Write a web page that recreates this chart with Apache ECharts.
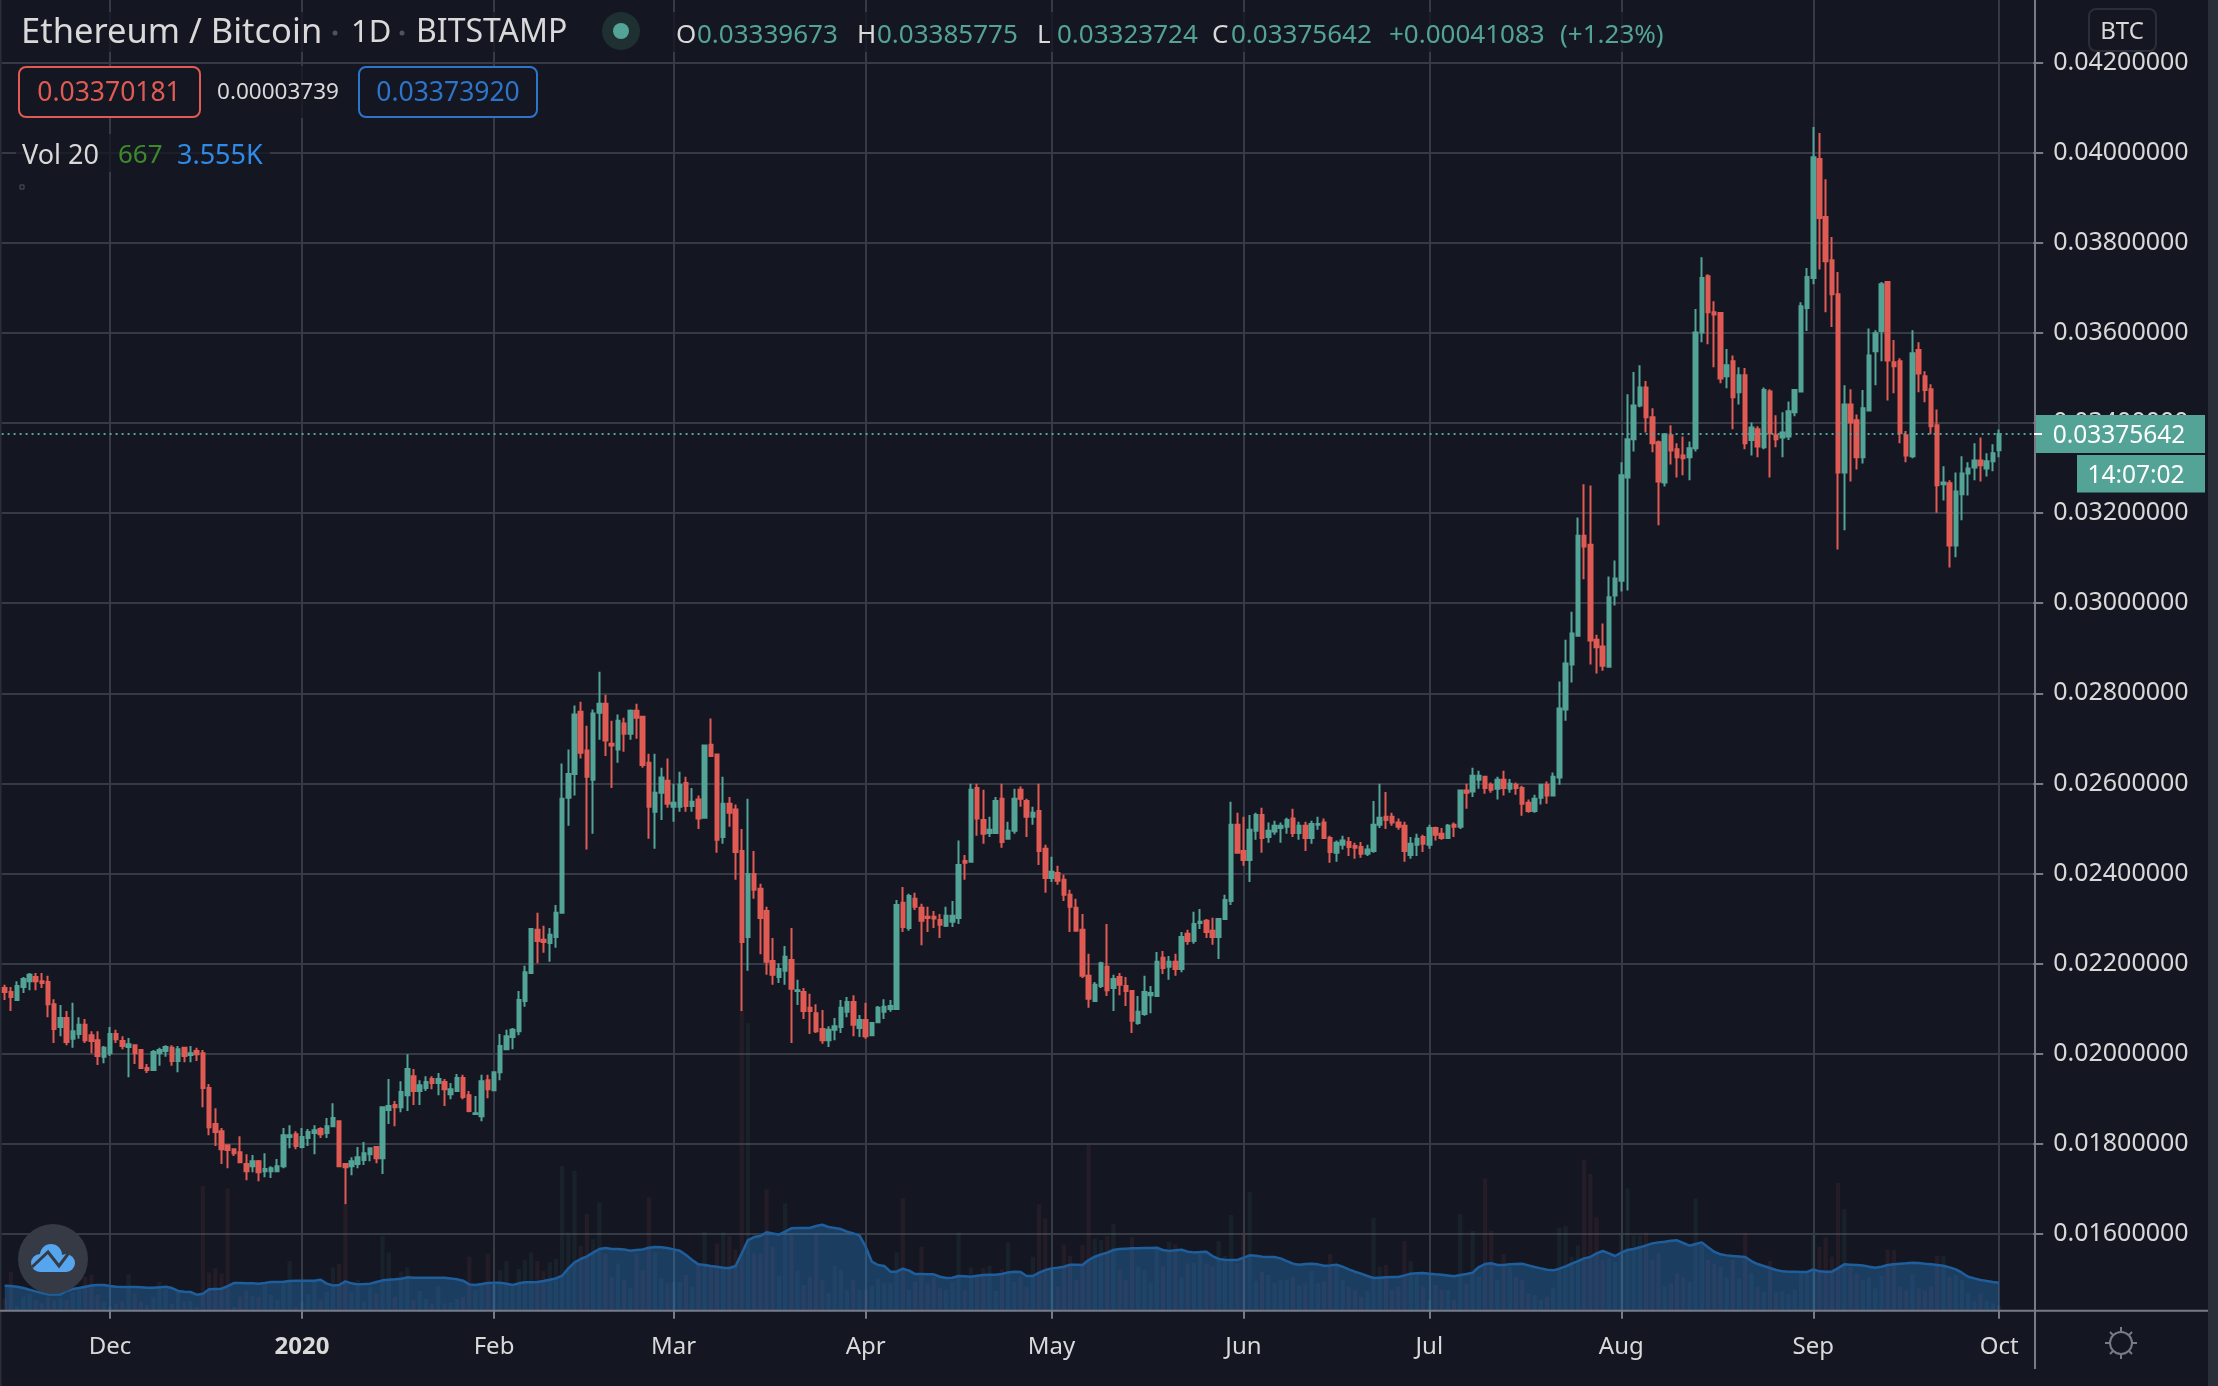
<!DOCTYPE html>
<html><head><meta charset="utf-8">
<style>html,body{margin:0;padding:0;background:#131722}#c{width:2218px;height:1386px}</style>
<script src="https://cdn.jsdelivr.net/npm/echarts@6/dist/echarts.min.js"></script>
</head><body><div id="c"></div>
<script>
// Prices are in units of 0.00001 BTC
const PRICE_UNIT = 1e-5;
const startDate = '2019-11-14';
const blankDays = 5;
const priceOpen = [
2146,2137,2119,2148,2161,2170,2161,2159,2110,2059,
2079,2033,2044,2064,2041,2030,1993,2001,2044,2028,
2015,2019,2008,1968,1964,2001,2006,2013,1984,2013,
1997,2006,2001,1924,1844,1828,1797,1788,1781,1755,
1750,1761,1739,1739,1739,1750,1815,1821,1793,1813,
1824,1833,1824,1839,1850,1755,1750,1755,1764,1777,
1793,1768,1875,1886,1881,1908,1950,1917,1924,1944,
1935,1937,1910,1917,1946,1908,1866,1861,1941,1919,
1959,2010,2037,2050,2117,2179,2275,2253,2246,2259,
2313,2568,2621,2759,2673,2608,2757,2777,2688,2675,
2733,2710,2761,2748,2646,2537,2579,2606,2548,2548,
2601,2550,2564,2524,2686,2664,2481,2555,2542,2450,
2259,2399,2366,2317,2206,2170,2184,2208,2139,2137,
2102,2090,2055,2030,2053,2059,2093,2115,2057,2075,
2041,2070,2093,2099,2099,2335,2279,2344,2324,2304,
2304,2297,2284,2293,2301,2428,2426,2590,2519,2490,
2490,2566,2477,2495,2586,2561,2526,2539,2455,2390,
2401,2386,2353,2324,2275,2173,2117,2150,2193,2146,
2170,2150,2139,2068,2088,2130,2128,2213,2193,2204,
2188,2266,2250,2290,2295,2273,2259,2299,2339,2508,
2450,2430,2495,2530,2481,2493,2501,2504,2522,2490,
2506,2479,2508,2513,2479,2446,2464,2470,2461,2459,
2444,2450,2508,2526,2526,2513,2506,2441,2464,2481,
2464,2501,2488,2479,2508,2504,2584,2582,2608,2615,
2597,2588,2608,2588,2597,2590,2557,2539,2568,2597,
2573,2613,2764,2864,2928,3150,3130,2919,2904,2859,
3017,3050,3279,3364,3439,3479,3413,3357,3268,3373,
3342,3328,3324,3344,3601,3726,3646,3644,3504,3537,
3468,3506,3362,3386,3346,3470,3373,3368,3370,3424,
3470,3655,3722,3986,3857,3761,3686,3290,3441,3406,
3324,3428,3559,3604,3713,3535,3537,3373,3326,3562,
3504,3475,3395,3264,3266,3128,3242,3288,3301,3317,
3299,3315,3339.673];
const priceClose = [
2137,2126,2150,2166,2175,2161,2157,2110,2055,2079,
2026,2050,2064,2030,2028,1995,2013,2044,2032,2017,
2021,2001,1968,1964,2004,2008,2015,1984,2010,1995,
2001,1999,1924,1837,1826,1788,1786,1779,1759,1739,
1761,1737,1744,1746,1750,1819,1819,1795,1815,1826,
1830,1821,1839,1857,1750,1748,1761,1770,1779,1790,
1768,1881,1884,1881,1915,1966,1917,1930,1937,1935,
1944,1921,1921,1946,1904,1873,1868,1939,1921,1959,
2017,2039,2053,2119,2181,2277,2250,2248,2264,2313,
2566,2621,2753,2668,2615,2755,2777,2695,2684,2739,
2710,2761,2746,2641,2548,2579,2613,2555,2557,2597,
2550,2559,2522,2684,2661,2475,2555,2535,2448,2248,
2399,2364,2301,2204,2175,2188,2215,2144,2141,2095,
2095,2050,2030,2053,2061,2102,2115,2064,2075,2039,
2068,2102,2104,2106,2330,2281,2350,2326,2295,2301,
2300,2286,2306,2306,2419,2424,2586,2522,2488,2497,
2561,2470,2495,2566,2566,2526,2535,2450,2390,2404,
2384,2353,2326,2273,2173,2122,2153,2201,2141,2166,
2153,2139,2073,2093,2137,2135,2204,2190,2204,2188,
2259,2250,2288,2293,2270,2259,2299,2341,2508,2446,
2430,2497,2530,2479,2495,2506,2506,2519,2490,2506,
2479,2510,2510,2479,2448,2468,2473,2459,2457,2444,
2453,2508,2524,2519,2513,2504,2450,2466,2477,2466,
2501,2486,2479,2506,2504,2584,2579,2617,2617,2590,
2586,2608,2590,2599,2590,2555,2539,2566,2597,2573,
2615,2766,2866,2933,3150,3126,2917,2902,2861,3013,
3055,3284,3364,3439,3479,3413,3355,3270,3375,3339,
3324,3322,3344,3601,3722,3646,3641,3499,3528,3457,
3506,3355,3390,3348,3473,3377,3364,3379,3426,3473,
3659,3724,3990,3855,3759,3686,3290,3441,3401,3324,
3433,3550,3599,3708,3539,3526,3377,3328,3555,3510,
3473,3393,3262,3268,3128,3248,3288,3299,3317,3306,
3315,3333,3375.642];
const priceHigh = [
2153,2148,2161,2170,2179,2179,2179,2173,2121,2108,
2095,2113,2081,2077,2050,2050,2017,2059,2053,2039,
2035,2021,2010,1977,2008,2013,2019,2019,2017,2015,
2017,2013,2008,1933,1879,1835,1797,1788,1817,1777,
1775,1764,1779,1750,1766,1835,1841,1828,1835,1833,
1841,1837,1857,1890,1850,1755,1770,1793,1804,1790,
1793,1881,1944,1895,1939,1999,1966,1941,1950,1950,
1957,1944,1935,1955,1953,1917,1906,1953,1953,1961,
2044,2053,2057,2139,2195,2279,2313,2284,2279,2330,
2644,2675,2773,2781,2728,2764,2848,2797,2739,2753,
2746,2764,2777,2748,2666,2666,2635,2655,2599,2626,
2615,2590,2573,2684,2744,2666,2615,2570,2553,2499,
2566,2450,2377,2326,2257,2201,2239,2279,2164,2146,
2133,2110,2097,2061,2079,2119,2126,2130,2086,2113,
2068,2106,2121,2119,2341,2370,2355,2357,2333,2326,
2317,2310,2326,2339,2473,2441,2599,2599,2586,2526,
2570,2599,2515,2588,2593,2566,2548,2599,2464,2437,
2417,2397,2364,2344,2310,2222,2159,2204,2288,2175,
2179,2170,2139,2128,2173,2150,2226,2228,2217,2222,
2270,2275,2315,2321,2299,2302,2299,2353,2559,2535,
2526,2530,2535,2546,2513,2517,2513,2524,2544,2515,
2515,2517,2526,2522,2484,2473,2484,2481,2468,2470,
2464,2561,2599,2581,2535,2522,2515,2481,2488,2486,
2508,2504,2501,2510,2513,2584,2599,2635,2628,2617,
2602,2615,2628,2610,2602,2595,2564,2575,2597,2604,
2624,2826,2919,2981,3190,3264,3261,2930,2955,3059,
3095,3313,3464,3513,3528,3493,3433,3361,3377,3395,
3355,3370,3359,3653,3768,3730,3670,3644,3564,3550,
3524,3522,3401,3393,3479,3475,3417,3424,3448,3473,
3668,3744,4057,4044,3941,3813,3735,3484,3475,3419,
3473,3610,3606,3713,3713,3584,3544,3382,3606,3579,
3515,3486,3430,3304,3273,3290,3326,3313,3355,3368,
3333,3353,3385.775];
const priceLow = [
2119,2095,2119,2135,2141,2141,2146,2081,2024,2039,
2019,2013,2033,2024,2001,1975,1979,1995,2024,2010,
1948,1977,1966,1957,1964,1973,1993,1973,1959,1981,
1981,1984,1881,1819,1795,1755,1746,1773,1759,1719,
1737,1717,1726,1724,1739,1746,1790,1788,1790,1795,
1777,1813,1813,1837,1750,1666,1730,1746,1753,1761,
1757,1733,1844,1839,1870,1873,1886,1886,1917,1921,
1908,1884,1899,1915,1899,1870,1864,1850,1901,1917,
1941,2010,2010,2041,2104,2179,2201,2224,2204,2235,
2313,2506,2573,2655,2453,2488,2697,2661,2590,2646,
2670,2697,2699,2635,2477,2455,2519,2546,2515,2537,
2537,2537,2499,2522,2659,2446,2466,2504,2386,2095,
2184,2344,2221,2175,2153,2157,2153,2024,2108,2077,
2044,2046,2022,2015,2030,2046,2081,2039,2037,2033,
2039,2070,2077,2093,2097,2270,2273,2319,2241,2270,
2279,2257,2281,2281,2288,2386,2424,2484,2466,2481,
2490,2457,2475,2488,2548,2481,2508,2419,2357,2381,
2375,2339,2270,2273,2168,2102,2115,2146,2128,2095,
2130,2106,2046,2064,2084,2090,2128,2177,2164,2173,
2181,2242,2244,2277,2257,2242,2210,2299,2330,2444,
2417,2381,2475,2446,2468,2486,2468,2488,2481,2475,
2450,2466,2497,2477,2424,2426,2453,2439,2433,2435,
2439,2446,2501,2499,2506,2497,2426,2433,2439,2448,
2455,2473,2475,2477,2481,2499,2544,2570,2588,2577,
2579,2564,2573,2579,2575,2528,2535,2535,2553,2555,
2573,2597,2739,2824,2926,3053,2864,2844,2850,2859,
2995,3026,3028,3337,3435,3379,3335,3173,3259,3308,
3279,3284,3273,3337,3579,3575,3524,3488,3477,3386,
3441,3342,3328,3324,3342,3279,3346,3324,3362,3415,
3470,3604,3708,3741,3646,3613,3119,3162,3270,3297,
3310,3428,3484,3537,3450,3466,3355,3313,3322,3468,
3446,3375,3201,3228,3079,3102,3184,3239,3273,3270,
3281,3293,3323.724];
const volume = [
1570,4950,590,1780,2120,1350,930,1780,1350,1570,
1350,2410,2620,4310,4530,1990,1140,510,930,1140,
4650,2200,1140,720,1780,3680,2750,930,2410,1140,
1230,510,15820,4860,5370,4740,15520,510,1780,2620,
1860,1780,3260,1990,1350,3680,6300,510,1140,2070,
3680,1350,2410,5500,5920,13410,2410,3890,1140,3050,
2200,9480,7400,1780,4950,5500,1350,2500,1480,930,
3130,930,1020,1480,1780,6850,2620,3260,7190,3260,
5160,6300,3050,5290,6430,7400,6300,5030,6130,6560,
18360,9900,17720,8250,12270,9090,13750,7280,4310,6010,
3890,2830,7280,5160,14380,7400,4100,3470,3680,3680,
4530,3050,6010,10030,5580,8540,9940,9480,7780,38150,
36460,7280,7280,15400,8120,4400,13620,9810,5080,3260,
4310,9810,3890,2280,5670,5160,2620,3890,2620,2620,
3130,4100,3470,3470,7400,14260,2620,3680,8120,3470,
4310,2830,2620,3680,9900,2620,5500,4310,5370,5670,
2500,5250,8670,3680,4310,3050,6850,13490,11720,5370,
3050,8420,6980,3890,8330,21020,9180,8970,9480,11000,
5160,3890,9390,5580,5160,3470,7700,5580,8760,8420,
4230,6010,6090,7280,6010,5580,8840,6940,12140,6010,
9810,15100,3760,4950,4530,3550,3980,3890,4310,3260,
3470,5030,3470,3680,7190,5800,3890,3050,2620,1780,
2500,11800,5580,5800,2620,3050,8840,6300,4740,3050,
1350,3260,2620,2620,1350,12270,3470,10110,4310,16790,
10150,3890,7190,5580,4310,3890,2200,1990,1350,1780,
2920,10530,10740,6850,8250,19120,17340,11840,6430,6640,
6220,9810,15520,9520,9520,9900,6430,7280,3170,3470,
4740,4310,3680,14260,8540,6430,6010,5580,4230,6430,
4100,9810,4740,3050,2410,6300,2410,2500,2120,2620,
4740,4740,9600,8120,9310,6850,16240,12900,5580,4740,
3890,4190,2830,4440,7780,7700,3050,2620,4650,2830,
2620,3050,6940,6940,4310,4530,3890,2280,1230,2200,
1230,930,667];
const volumeAverage = [
3170,3130,3050,2880,2660,2450,2240,2070,2070,2070,
2500,2750,2880,3050,3210,3260,3260,3130,3050,3000,
3000,3000,2960,2920,2920,2960,3050,2880,2500,2410,
2370,2030,2160,2710,2750,2790,3130,3510,3510,3470,
3470,3430,3510,3640,3640,3680,3760,3810,3810,3810,
3810,3930,3430,3210,3260,3720,3470,3340,3380,3430,
3640,3850,3930,3980,4060,4230,4190,4190,4190,4190,
4190,4190,4100,3980,3810,3340,3260,3380,3510,3550,
3550,3430,3260,3470,3600,3600,3640,3760,3930,4100,
4440,5370,6130,6560,6890,7360,7830,7950,7830,7830,
7780,7610,7700,7780,7990,8080,8040,7950,7780,7610,
7060,6430,5880,5800,5670,5580,5460,5410,5670,7280,
8970,9350,9480,9940,9810,9640,10030,10450,10490,10490,
10490,10740,10910,10620,10490,10360,10030,9810,9560,8120,
6220,5800,5670,4950,4950,5330,5080,4650,4650,4610,
4610,4310,4150,4190,4400,4360,4310,4440,4530,4570,
4570,4650,4860,4950,4910,4400,4400,4820,5160,5370,
5460,5580,5840,5840,5800,6430,6850,7150,7360,7700,
7830,7870,7910,7910,7950,7950,7990,7700,7570,7660,
7740,7490,7400,7440,7490,6940,6560,6470,6430,6430,
6730,7020,6980,6850,6810,6810,6640,6300,5960,5840,
5920,5960,5880,5710,5750,5840,5580,5250,4950,4700,
4400,4150,4190,4230,4270,4270,4480,4700,4740,4780,
4700,4610,4570,4480,4360,4530,4650,4820,5540,5920,
6010,5800,5800,5880,5920,5960,5750,5540,5370,5200,
5120,5330,5630,5960,6300,6640,6810,7280,7570,7280,
6940,7360,7700,7830,8040,8290,8540,8670,8760,8880,
8930,8590,8250,8460,8670,8040,7490,7150,7020,6940,
6890,6810,6300,5920,5670,5410,5160,4990,4950,4950,
4910,4910,5250,4990,4950,4950,5410,5880,5840,5800,
5750,5580,5460,5580,5800,5880,5960,6010,6090,6050,
5960,5880,5800,5710,5500,5250,4820,4310,4100,3890,
3760,3640,3555];
const priceTicks = [0.016,0.018,0.02,0.022,0.024,0.026,0.028,0.03,0.032,0.034,0.036,0.038,0.04,0.042];
const monthTicks = {'2019-12-01':'Dec','2020-01-01':'2020','2020-02-01':'Feb','2020-03-01':'Mar','2020-04-01':'Apr','2020-05-01':'May','2020-06-01':'Jun','2020-07-01':'Jul','2020-08-01':'Aug','2020-09-01':'Sep','2020-10-01':'Oct'};
const lastClose = priceClose[priceClose.length-1]*PRICE_UNIT;

const BG='#141722', GRID='#363a45', AXIS='#787b86', UP='#53a497', DOWN='#e05b54', FONT='"Noto Sans", sans-serif', TXT='#d9d9d9';

const categories=[];
{const d=new Date(startDate+'T00:00:00Z');
 for(let i=0;i<priceOpen.length+blankDays;i++){categories.push(d.toISOString().slice(0,10));d.setUTCDate(d.getUTCDate()+1);}}
const isMonth=(i,v)=>v in monthTicks;
const candleData=priceOpen.map((o,i)=>[o*PRICE_UNIT,priceClose[i]*PRICE_UNIT,priceLow[i]*PRICE_UNIT,priceHigh[i]*PRICE_UNIT]);
const barData=volume.map((v,i)=>({value:v,itemStyle:{color:priceClose[i]>=priceOpen[i]?UP:DOWN,opacity:0.08}}));

const Z=100;
const text=(t,x,y,size,fill,align)=>({type:'text',z:Z+2,silent:true,style:{text:t,x,y:y+2,fill,font:size+'px '+FONT,align:align||'left',verticalAlign:'middle'}});
const rect=(x,y,w,h,st,r)=>({type:'rect',z:Z,silent:true,shape:{x,y,width:w,height:h,r:r||0},style:st});
const mask=(x,y,w,h)=>rect(x,y,w,h,{fill:BG,opacity:0.75});
const line=(x1,y1,x2,y2,c,w)=>({type:'line',z:Z+1,silent:true,shape:{x1,y1,x2,y2},style:{stroke:c,lineWidth:w||2}});
const disc=(cx,cy,r,fill,z)=>({type:'circle',z:z||Z+1,silent:true,shape:{cx,cy,r},style:{fill}});

const graphics=[
 rect(2208,0,10,1386,{fill:'#2a2e39'}),
 rect(0,0,1.5,1386,{fill:'#2a2e39'}),
 line(0,1310.7,2208,1310.7,AXIS,2),
 line(2035,0,2035,1369,AXIS,2),
 mask(14,12,1660,40),mask(14,66,526,52),mask(16,134,254,38),
 text('Ethereum / Bitcoin',21,31,34.5,TXT),
 disc(335,33,2.5,'#50535e'),
 text('1D',351,31,31,TXT),
 disc(402,33,2.5,'#50535e'),
 text('BITSTAMP',416,31,32,TXT),
 disc(621,31,19,'#1f3033'),
 disc(621,31,8,UP,Z+2),
 text('O',676,34,26,TXT),text('0.03339673',697,34,26,UP),
 text('H',857,34,26,TXT),text('0.03385775',877,34,26,UP),
 text('L',1037,34,26,TXT),text('0.03323724',1057,34,26,UP),
 text('C',1212,34,26,TXT),text('0.03375642',1231,34,26,UP),
 text('+0.00041083',1389,34,26,UP),text('(+1.23%)',1560,34,26,UP),
 rect(19,67,181,50,{fill:BG,stroke:DOWN,lineWidth:2},7),
 text('0.03370181',109,91,26.5,DOWN,'center'),
 text('0.00003739',278,91,22.5,TXT,'center'),
 rect(359,67,178,50,{fill:BG,stroke:'#2e74c9',lineWidth:2},7),
 text('0.03373920',448,91,26.5,'#2e74c9','center'),
 text('Vol 20',22,154,27,TXT),text('667',118,154,26,'#3d8a2b'),text('3.555K',177,154,27,'#2f8be6'),
 rect(20,185,4,4,{fill:'none',stroke:'#50535e',lineWidth:1}),
 disc(53,1259,35,'#363a45'),
 // logo: a cloud built from discs and a base, crossed by a dark zigzag
 disc(40,1263,9,'#55a6ee',Z+2),disc(51,1255,11,'#55a6ee',Z+2),disc(66,1263,9,'#55a6ee',Z+2),
 {type:'rect',z:Z+2,silent:true,shape:{x:40,y:1258,width:26,height:14},style:{fill:'#55a6ee'}},
 {type:'polyline',z:Z+3,silent:true,shape:{points:[[32,1267],[48,1252],[59,1266],[71,1250]]},style:{stroke:'#363a45',lineWidth:3,fill:'none'}},
 rect(2089,9,67,42,{fill:BG,stroke:'#2a2e39',lineWidth:2},7),
 text('BTC',2122,30,24,TXT,'center'),
 rect(2034,415,171,38,{fill:UP}),
 line(2034,434,2042,434,'#ffffff',2),
 text(lastClose.toFixed(8),2119,434,24.5,'#ffffff','center'),
 rect(2077,455,128,37.5,{fill:UP}),
 text('14:07:02',2136,474,24.5,'#ffffff','center'),
 {type:'circle',z:Z+1,silent:true,shape:{cx:2121,cy:1343,r:11},style:{fill:'none',stroke:AXIS,lineWidth:2}},
 line(2121,1327,2121,1332,AXIS),line(2121,1354,2121,1359,AXIS),
 line(2105,1343,2110,1343,AXIS),line(2132,1343,2137,1343,AXIS),
 line(2110,1332,2113,1335,AXIS),line(2129,1351,2132,1354,AXIS),
 line(2132,1332,2129,1335,AXIS),line(2113,1351,2110,1354,AXIS)
];

const chart=echarts.init(document.getElementById('c'),null,{renderer:'canvas',width:2218,height:1386});
chart.setOption({
 animation:false,
 backgroundColor:BG,
 grid:{left:1.6,top:0,width:2031.6,height:1310.7,containLabel:false},
 xAxis:{type:'category',data:categories,boundaryGap:true,
  axisLine:{show:false},
  axisTick:{show:true,alignWithLabel:true,interval:isMonth,length:8,lineStyle:{color:AXIS,width:2}},
  splitLine:{show:true,alignWithLabel:true,interval:isMonth,lineStyle:{color:GRID,width:2}},
  axisLabel:{interval:isMonth,margin:24,color:TXT,fontFamily:'"Noto Sans"',fontSize:24,hideOverlap:false,
   formatter:v=>v==='2020-01-01'?'{b|2020}':(monthTicks[v]||''),
   rich:{b:{fontWeight:'bold',fontFamily:'"Noto Sans"',fontSize:24,color:TXT}}}},
 yAxis:[{type:'value',position:'right',min:0.0142952,max:0.0433896,scale:true,
   axisLine:{show:false},
   axisTick:{show:true,length:10,customValues:priceTicks,lineStyle:{color:AXIS,width:2}},
   splitLine:{show:true,lineStyle:{color:GRID,width:2}},
   axisLabel:{customValues:priceTicks,margin:20,padding:[8,0,0,0],color:TXT,fontFamily:'"Noto Sans"',fontSize:25,formatter:v=>v.toFixed(8)}},
  {type:'value',show:false,min:0,max:166300,splitLine:{show:false}}],
 tooltip:{show:false},
 graphic:graphics,
 series:[
  {name:'Volume',type:'bar',xAxisIndex:0,yAxisIndex:1,data:barData,barWidth:4.3,z:1,silent:true},
  {name:'Volume MA 20',type:'line',xAxisIndex:0,yAxisIndex:1,data:volumeAverage,showSymbol:false,symbol:'none',z:2,silent:true,
   lineStyle:{color:'#1f5e9c',width:2.5},areaStyle:{color:'#2e96f3',opacity:0.3}},
  {name:'ETHBTC',type:'candlestick',xAxisIndex:0,yAxisIndex:0,data:candleData,barWidth:4,z:3,silent:true,
   itemStyle:{color:UP,color0:DOWN,borderColor:UP,borderColor0:DOWN,borderWidth:2},
   markLine:{silent:true,symbol:'none',animation:false,precision:8,label:{show:false},
    lineStyle:{color:UP,type:[2,4],width:2},data:[{yAxis:lastClose}]}}
 ]
});
</script></body></html>
